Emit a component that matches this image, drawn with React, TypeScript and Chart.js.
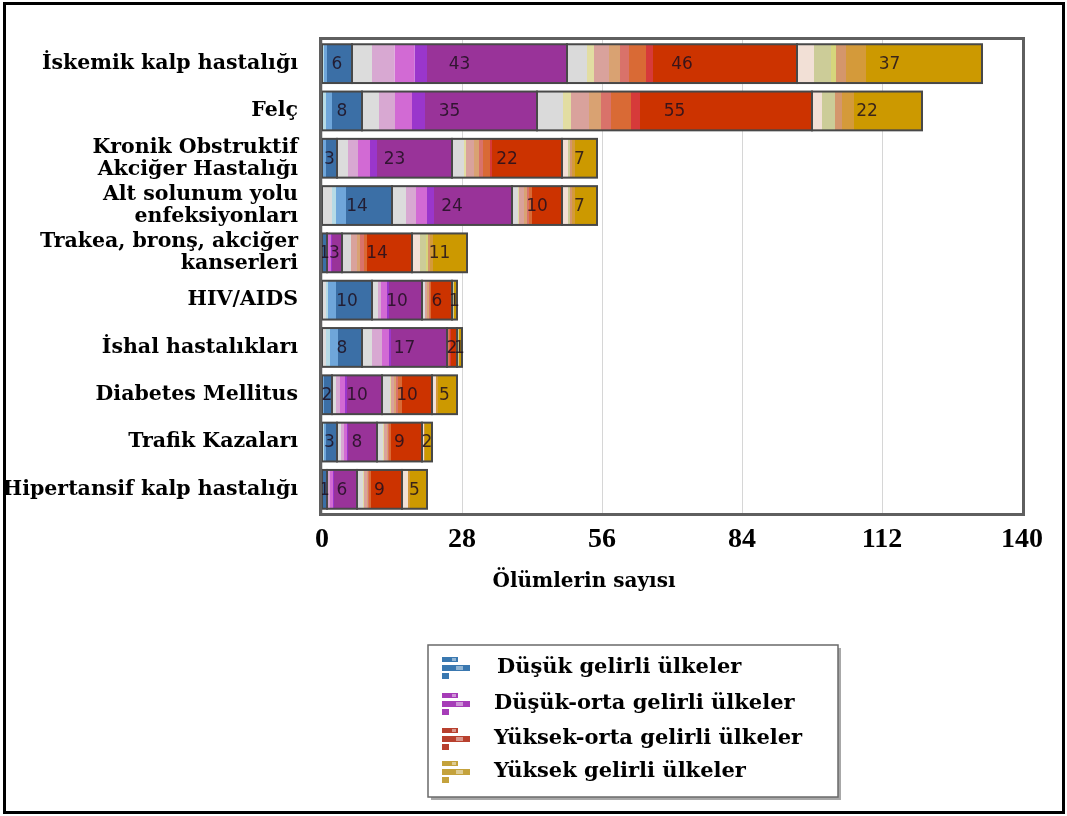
import { useEffect, useRef } from "react";
import { Chart, registerables } from "chart.js";

Chart.register(...registerables);

// Causes of death (category axis)
const causes: string[][] = [
  ["İskemik kalp hastalığı"],
  ["Felç"],
  ["Kronik Obstruktif", "Akciğer Hastalığı"],
  ["Alt solunum yolu", "enfeksiyonları"],
  ["Trakea, bronş, akciğer", "kanserleri"],
  ["HIV/AIDS"],
  ["İshal hastalıkları"],
  ["Diabetes Mellitus"],
  ["Trafik Kazaları"],
  ["Hipertansif kalp hastalığı"],
];

const incomeGroups = [
  "Düşük gelirli ülkeler",
  "Düşük-orta gelirli ülkeler",
  "Yüksek-orta gelirli ülkeler",
  "Yüksek gelirli ülkeler",
];

// Group totals (the labelled values)
const lowIncome = [6, 8, 3, 14, 1, 10, 8, 2, 3, 1];
const lowerMiddle = [43, 35, 23, 24, 3, 10, 17, 10, 8, 6];
const upperMiddle = [46, 55, 22, 10, 14, 6, 2, 10, 9, 9];
const highIncome = [37, 22, 7, 7, 11, 1, 1, 5, 2, 5];

// Light sub-bands inside each group (the rest of the group is the main band)
const lowGray = [0, 0, 0, 2, 0, 0.8, 0.8, 0, 0, 0];
const lowPale = [0.4, 0.8, 0.2, 0.8, 0, 0.4, 0.8, 0.2, 0.4, 0];
const lowLight = [0.6, 1.2, 0.6, 2, 0.2, 1.6, 1.6, 0.2, 0.4, 0.2];

const lmGray = [4, 3.4, 2.2, 2.8, 0, 1.2, 2, 0.8, 0.8, 0.2];
const lmPink = [4.5, 3.2, 2, 2, 0, 0.6, 2, 0.8, 0.6, 0.4];
const lmOrchid = [4, 3.4, 2.4, 2.2, 0.8, 1.2, 1.4, 1, 0.6, 0.6];
const lmViolet = [2.5, 2.6, 1.4, 1.4, 0.2, 0.4, 0.4, 0.4, 0.2, 0.2];

const umGray = [4, 5.2, 2.4, 1.2, 1.8, 0.6, 0.2, 1.6, 1.2, 1.2];
const umYellow = [1.4, 1.6, 0.4, 0.2, 0, 0, 0, 0.2, 0.2, 0.2];
const umRose = [3, 3.6, 1.6, 1, 1.2, 0.4, 0, 0.6, 0.6, 0.6];
const umTan = [2.2, 2.4, 1, 0.6, 0.6, 0.4, 0, 0.4, 0.2, 0.2];
const umSalmon = [1.8, 2, 0.8, 0.4, 0.8, 0.2, 0.2, 0.4, 0.2, 0.2];
const umOrange = [3.4, 4, 1.4, 0.6, 0.6, 0.2, 0.2, 0.8, 0.4, 0.4];
const umRed = [1.4, 1.8, 0.4, 0, 0, 0, 0.2, 0, 0, 0];

const hiPale = [3.4, 2, 1.2, 1.2, 1.6, 0.2, 0.2, 0.8, 0.4, 1.2];
const hiOlive = [3.4, 2.6, 0.4, 0.4, 1.2, 0.2, 0.2, 0, 0, 0];
const hiLime = [1, 0, 0, 0, 0.4, 0, 0, 0, 0, 0];
const hiTan = [2, 1.4, 0.4, 0.4, 0.4, 0, 0, 0, 0, 0];
const hiAmber = [4, 2.4, 0.6, 0.6, 0.6, 0, 0, 0.4, 0.2, 0.4];

const xTicks = [0, 28, 56, 84, 112, 140];

const groups = [
  {
    totals: lowIncome,
    bands: [lowGray, lowPale, lowLight],
    colors: ["#dcdcdc", "#b6dbe6", "#6fa6da", "#3b6fa6"],
    icon: "#3a78b0",
  },
  {
    totals: lowerMiddle,
    bands: [lmGray, lmPink, lmOrchid, lmViolet],
    colors: ["#dcdcdc", "#d8a8d2", "#d26ad4", "#9a36cc", "#993399"],
    icon: "#a63cb8",
  },
  {
    totals: upperMiddle,
    bands: [umGray, umYellow, umRose, umTan, umSalmon, umOrange, umRed],
    colors: ["#dadada", "#e2dda2", "#d9a29c", "#d9a272", "#d9726a", "#d96a35", "#d63a3a", "#cc3300"],
    icon: "#b8402e",
  },
  {
    totals: highIncome,
    bands: [hiPale, hiOlive, hiLime, hiTan, hiAmber],
    colors: ["#f2e0d6", "#cccc98", "#d6d67c", "#d4966c", "#d49a3a", "#cc9900"],
    icon: "#c4a23c",
  },
];

function buildDatasets() {
  const sets: any[] = [];
  groups.forEach((g, gi) => {
    g.bands.forEach((band, bi) => {
      sets.push({ label: `${incomeGroups[gi]} ${bi}`, data: band, backgroundColor: g.colors[bi] });
    });
    const main = g.totals.map((t, i) => t - g.bands.reduce((s, b) => s + b[i], 0));
    sets.push({ label: incomeGroups[gi], data: main, backgroundColor: g.colors[g.colors.length - 1] });
  });
  return sets.map((s) => ({
    ...s,
    borderWidth: 0,
    barPercentage: 0.82,
    categoryPercentage: 1,
  }));
}

const decorations = {
  id: "decorations",
  afterDatasetsDraw(chart: any) {
    const { ctx, scales } = chart;
    const x = scales.x;
    const meta = chart.getDatasetMeta(0);
    ctx.save();
    // outline of each income group
    causes.forEach((_, i) => {
      const bar = meta.data[i];
      const top = bar.y - bar.height / 2;
      let start = 0;
      groups.forEach((g) => {
        const v = g.totals[i];
        const x0 = x.getPixelForValue(start);
        const x1 = x.getPixelForValue(start + v);
        ctx.strokeStyle = "#484848";
        ctx.lineWidth = 2;
        ctx.strokeRect(x0, top, x1 - x0, bar.height);
        start += v;
      });
    });
    // value labels centred in each group
    ctx.font = '17px "DejaVu Sans"';
    ctx.textAlign = "center";
    ctx.textBaseline = "middle";
    ctx.fillStyle = "rgba(30,15,30,0.85)";
    causes.forEach((_, i) => {
      const bar = meta.data[i];
      let start = 0;
      groups.forEach((g) => {
        const v = g.totals[i];
        const cx = x.getPixelForValue(start + v / 2);
        ctx.fillText(String(v), cx, bar.y + 1);
        start += v;
      });
    });
    ctx.restore();
  },
  afterDraw(chart: any) {
    const { ctx, chartArea } = chart;
    ctx.save();
    // plot frame
    ctx.strokeStyle = "#5f5f5f";
    ctx.lineWidth = 3;
    ctx.strokeRect(
      chartArea.left - 1.5,
      chartArea.top - 1.5,
      chartArea.right - chartArea.left + 3,
      chartArea.bottom - chartArea.top + 3
    );
    // axis title
    ctx.fillStyle = "#000";
    ctx.font = 'bold 20px "DejaVu Serif"';
    ctx.textAlign = "center";
    ctx.textBaseline = "middle";
    ctx.fillText("Ölümlerin sayısı", 584, 582);

    // legend box
    const lx = 428, ly = 645, lw = 410, lh = 152;
    ctx.fillStyle = "#a8a8a8";
    ctx.fillRect(lx + 3, ly + 3, lw, lh);
    ctx.fillStyle = "#fff";
    ctx.fillRect(lx, ly, lw, lh);
    ctx.strokeStyle = "#6a6a6a";
    ctx.lineWidth = 1.5;
    ctx.strokeRect(lx, ly, lw, lh);
    const rows = [668, 704, 739, 772];
    ctx.font = 'bold 21px "DejaVu Serif"';
    ctx.textAlign = "left";
    groups.forEach((g, gi) => {
      const cy = rows[gi];
      ctx.fillStyle = g.icon;
      ctx.fillRect(442, cy - 11, 16, 5);
      ctx.fillRect(442, cy - 3, 28, 6);
      ctx.fillRect(442, cy + 5, 7, 6);
      ctx.fillStyle = "rgba(255,255,255,0.45)";
      ctx.fillRect(452, cy - 10, 4, 3);
      ctx.fillRect(456, cy - 2, 7, 4);
      ctx.fillStyle = "#000";
      ctx.fillText(incomeGroups[gi], gi === 0 ? 497 : 494, cy);
    });

    // outer border
    ctx.strokeStyle = "#000";
    ctx.lineWidth = 3;
    ctx.strokeRect(4.5, 3.5, 1059, 809);
    ctx.restore();
  },
};

export default function App() {
  const ref = useRef<HTMLCanvasElement>(null);

  useEffect(() => {
    const chart = new Chart(ref.current as HTMLCanvasElement, {
      type: "bar",
      data: {
        labels: causes,
        datasets: buildDatasets(),
      },
      options: {
        indexAxis: "y",
        responsive: false,
        devicePixelRatio: 1,
        animation: false,
        layout: { padding: { left: 0, right: 45, top: 40, bottom: 263 } },
        plugins: {
          legend: { display: false },
          tooltip: { enabled: false },
        },
        scales: {
          x: {
            type: "linear",
            stacked: true,
            min: 0,
            max: 140,
            afterBuildTicks: (scale: any) => {
              scale.ticks = xTicks.map((v) => ({ value: v }));
            },
            ticks: {
              color: "#000",
              padding: 10,
              font: { family: '"Liberation Serif"', size: 28, weight: "bold" },
            },
            grid: { color: "#d6d6d6", drawTicks: false, lineWidth: 1 },
            border: { display: false },
            afterFit: (scale: any) => {
              scale.height = 40;
            },
          },
          y: {
            stacked: true,
            ticks: {
              color: "#000",
              padding: 16,
              autoSkip: false,
              crossAlign: "near",
              font: { family: '"DejaVu Serif"', size: 20.5, weight: "bold", lineHeight: 1.08 },
            },
            grid: { display: false },
            border: { display: false },
            afterFit: (scale: any) => {
              scale.width = 322;
            },
          },
        },
      },
      plugins: [decorations],
    } as any);
    return () => chart.destroy();
  }, []);

  return (
    <div style={{ position: "absolute", left: 0, top: 0, width: 1067, height: 816, background: "#fff" }}>
      <canvas ref={ref} width={1067} height={816} style={{ width: 1067, height: 816, display: "block" }} />
    </div>
  );
}
